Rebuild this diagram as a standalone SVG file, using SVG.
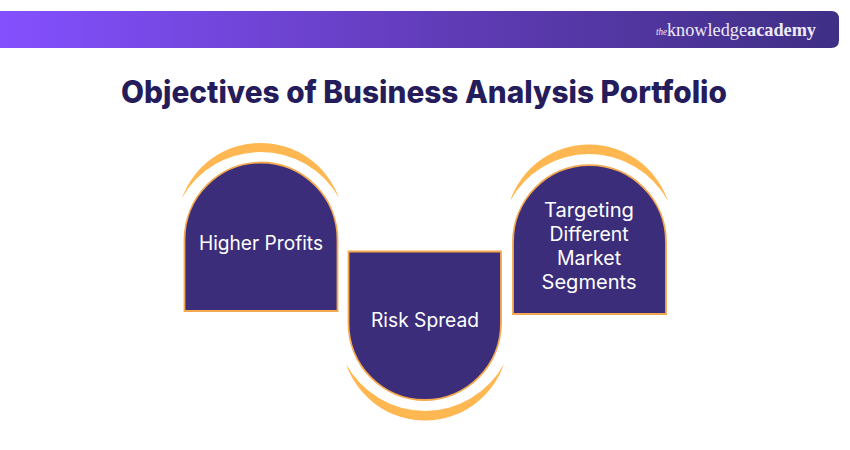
<svg xmlns="http://www.w3.org/2000/svg" width="850" height="450" viewBox="0 0 850 450">
<defs>
<linearGradient id="bar" x1="0" y1="0" x2="1" y2="0"><stop offset="0" stop-color="#8450FF"/><stop offset="0.55" stop-color="#5F3BB5"/><stop offset="1" stop-color="#3F2F85"/></linearGradient>
</defs>
<style>
.node{fill:#3B2D7A;stroke:#F4A94F;stroke-width:1.8}
.arc{fill:#FFB851}
.lbl{font-family:"Inter","Noto Sans","Liberation Sans",sans-serif;font-size:19.5px;fill:#FFFFFF;text-anchor:middle}
.title{font-family:"Inter","Noto Sans","Liberation Sans",sans-serif;font-size:31px;font-weight:800;fill:#251C5C}
.logo{font-family:"Liberation Serif","DejaVu Serif",serif;fill:#EEEAF8}
</style>
<path id="banner" d="M0 11H831Q839 11 839 19V40Q839 48 831 48H0Z" fill="url(#bar)"/>
<g id="logo">
<text class="logo" x="656" y="35" font-size="10" font-style="italic" textLength="11" lengthAdjust="spacingAndGlyphs">the</text>
<text class="logo" x="667" y="36" font-size="19" textLength="80" lengthAdjust="spacingAndGlyphs">knowledge</text>
<text class="logo" x="747" y="36" font-size="19" font-weight="700" textLength="69" lengthAdjust="spacingAndGlyphs">academy</text>
</g>
<text id="title" class="title" x="121" y="103" textLength="606" lengthAdjust="spacingAndGlyphs">Objectives of Business Analysis Portfolio</text>
<g id="node-higher-profits">
<path class="arc" d="M182 198A83.500 83.500 0 0 1 339 198A90 90 0 0 0 182 198Z"/>
<path class="node" d="M184.500 311V240A76.500 77.500 0 0 1 337.500 240V311Z"/>
<text class="lbl" x="261" y="250" textLength="124" lengthAdjust="spacingAndGlyphs">Higher Profits</text>
</g>
<g id="node-risk-spread">
<path class="arc" d="M346 364A83.500 83.500 0 0 0 504 364A90 90 0 0 1 346 364Z"/>
<path class="node" d="M348.500 251.500H501V323A76.250 77 0 0 1 348.500 323Z"/>
<text class="lbl" x="425" y="327" textLength="108" lengthAdjust="spacingAndGlyphs">Risk Spread</text>
</g>
<g id="node-targeting">
<path class="arc" d="M510 201A83.500 83.500 0 0 1 668 201A90 90 0 0 0 510 201Z"/>
<path class="node" d="M513 314V242A76.500 77 0 0 1 666 242V314Z"/>
<text class="lbl" x="589" y="217" textLength="90" lengthAdjust="spacingAndGlyphs">Targeting</text>
<text class="lbl" x="589" y="241" textLength="79" lengthAdjust="spacingAndGlyphs">Different</text>
<text class="lbl" x="589" y="265" textLength="64" lengthAdjust="spacingAndGlyphs">Market</text>
<text class="lbl" x="589" y="289" textLength="95" lengthAdjust="spacingAndGlyphs">Segments</text>
</g>
<g id="connectors"></g>
</svg>
